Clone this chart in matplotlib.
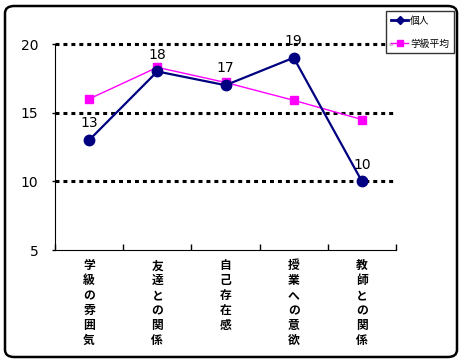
import matplotlib
matplotlib.use("Agg")
import matplotlib.pyplot as plt
from matplotlib.patches import FancyBboxPatch
from matplotlib.lines import Line2D

plt.rcParams['font.family'] = ['Noto Sans CJK JP', 'DejaVu Sans']

CATEGORIES = ["学級の雰囲気", "友達との関係", "自己存在感", "授業への意欲", "教師との関係"]
PERSONAL = [13, 18, 17, 19, 10]
CLASS_AVG = [16.0, 18.3, 17.2, 15.9, 14.5]
SERIES_NAMES = ["個人", "学級平均"]
Y_TICKS = [5, 10, 15, 20]

W, H = 461, 363
fig = plt.figure(figsize=(W / 100, H / 100), dpi=100)
ax = fig.add_axes([55 / W, 1 - 250 / H, (396 - 55) / W, (250 - 44) / H])

x = list(range(len(CATEGORIES)))
ax.plot(x, CLASS_AVG, color="#FF00FF", lw=1, marker="s", ms=5.5, zorder=3)
ax.plot(x, PERSONAL, color="#000080", lw=1.6, marker="o", ms=7.5, zorder=4)
for xi, v in zip(x, PERSONAL):
    ax.annotate(str(v), (xi, v), xytext=(0, 7), textcoords="offset points",
                ha="center", va="bottom", fontsize=10, family="DejaVu Sans")

ax.set_xlim(-0.5, len(CATEGORIES) - 0.5)
ax.set_ylim(5, 20)
ax.set_yticks(Y_TICKS)
ax.set_yticklabels([str(t) for t in Y_TICKS], family="DejaVu Sans", fontsize=10)
# dotted gridlines at 10, 15, 20
for t in Y_TICKS[1:]:
    ax.axhline(t, color="black", lw=2.2, ls=(0, (1.3, 1.3)), zorder=2, clip_on=False)

ax.set_xticks([i - 0.5 for i in range(len(CATEGORIES) + 1)])
ax.set_xticklabels([])
ax.tick_params(axis="x", direction="in", length=4, width=1)
ax.tick_params(axis="y", direction="out", length=2, width=1, pad=10)
# vertical category labels, one character per line
for i, c in enumerate(CATEGORIES):
    ax.text(i, -0.045, "\n".join(c), transform=ax.get_xaxis_transform(),
            ha="center", va="top", fontsize=8.5, fontweight="bold", linespacing=1.2)

ax.spines["top"].set_visible(False)
ax.spines["right"].set_visible(False)

handles = [
    Line2D([], [], color="#000080", lw=2, marker="D", ms=4),
    Line2D([], [], color="#FF00FF", lw=1, marker="s", ms=5),
]
leg = fig.legend(handles, SERIES_NAMES, loc="upper left",
                 bbox_to_anchor=(386 / W, 1 - 11 / H), fontsize=7,
                 frameon=True, fancybox=False, edgecolor="black",
                 handlelength=1.8, handletextpad=0.2, borderpad=0.5,
                 borderaxespad=0, labelspacing=1.3)
leg.get_frame().set_linewidth(1)

border = FancyBboxPatch((5 / W, 6 / H), (452 / W), (351 / H),
                        boxstyle="round,pad=0,rounding_size=0.02",
                        transform=fig.transFigure, fill=False,
                        edgecolor="black", lw=1.8)
fig.patches.append(border)

fig.savefig("out.png", dpi=100)
